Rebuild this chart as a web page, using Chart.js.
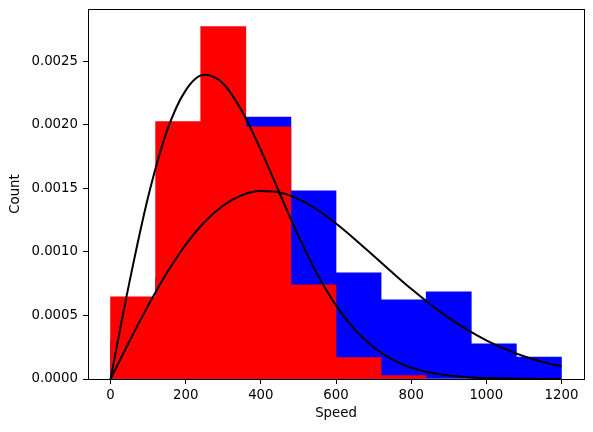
<!DOCTYPE html>
<html>
<head>
<meta charset="utf-8">
<script src="https://cdn.jsdelivr.net/npm/chart.js@4/dist/chart.umd.min.js"></script>
<style>
  body { margin: 0; background: #fff; }
</style>
</head>
<body>
<canvas id="myChart" width="593" height="432"></canvas>
<script>
// histogram bins (width 120)
const blueEdges = [0, 120, 240, 360, 480, 600, 720, 840, 960, 1080, 1200];
const blueDensity = [0.00030, 0.00080, 0.00110, 0.00206, 0.00148, 0.000835, 0.000622, 0.000685, 0.000276, 0.000173];
const redEdges = [0, 120, 240, 360, 480, 600, 720, 840];
const redDensity = [0.000646, 0.002024, 0.002772, 0.001984, 0.00074, 0.000168, 0.000026];

// fitted curves
const curveX = [0, 50, 100, 150, 200, 250, 300, 350, 400, 450, 500, 550, 600,
                650, 700, 750, 800, 850, 900, 950, 1000, 1050, 1100, 1150, 1200];
const redCurve = [0, 0.000758, 0.001432, 0.00195, 0.00227, 0.002392, 0.002322, 0.002105, 0.0018,
                  0.001461, 0.001126, 0.000826, 0.000579, 0.000388, 0.000249, 0.000153, 0.0000897,
                  0.0000506, 0.0000273, 0.0000142, 0.000007, 0.0000034, 0.0000015, 0.0000006, 0.0000003];
const blueCurve = [0, 0.000295, 0.000577, 0.000835, 0.001056, 0.001235, 0.001365, 0.001446, 0.001478,
                   0.001466, 0.001414, 0.001331, 0.001223, 0.0011, 0.000969, 0.000837, 0.000709,
                   0.00059, 0.000481, 0.000386, 0.000304, 0.000235, 0.000179, 0.000134, 0.0000985];

const xTicks = [0, 200, 400, 600, 800, 1000, 1200];
const yTicks = [0, 0.0005, 0.001, 0.0015, 0.002, 0.0025];

function toBars(edges, values) {
    return values.map((v, i) => ({ x: (edges[i] + edges[i + 1]) / 2, y: v }));
}

function toPoints(xs, ys) {
    return xs.map((x, i) => ({ x: x, y: ys[i] }));
}

// box around the plot area, like matplotlib spines
const frame = {
    id: 'frame',
    afterDatasetsDraw(chart) {
        const a = chart.chartArea;
        const ctx = chart.ctx;
        ctx.save();
        ctx.strokeStyle = '#000';
        ctx.lineWidth = 1;
        ctx.strokeRect(Math.round(a.left) + 0.5, Math.round(a.top) + 0.5,
                       Math.round(a.right - a.left), Math.round(a.bottom - a.top));
        ctx.restore();
    }
};

Chart.defaults.font.family = '"DejaVu Sans", sans-serif';
Chart.defaults.font.size = 13.3;
Chart.defaults.color = '#000';

const tickGrid = {
    display: true,
    drawOnChartArea: false,
    drawTicks: true,
    tickLength: 5,
    tickColor: '#000',
    tickWidth: 1,
    offset: false
};

function noPadding(axis) {
    axis.paddingTop = 0;
    axis.paddingBottom = 0;
    axis.paddingLeft = 0;
    axis.paddingRight = 0;
}

new Chart(document.getElementById('myChart').getContext('2d'), {
    type: 'bar',
    data: {
        datasets: [
            {
                type: 'line',
                data: toPoints(curveX, redCurve),
                borderColor: '#000',
                borderWidth: 2,
                pointRadius: 0,
                cubicInterpolationMode: 'monotone',
                fill: false,
                order: 0
            },
            {
                type: 'line',
                data: toPoints(curveX, blueCurve),
                borderColor: '#000',
                borderWidth: 2,
                pointRadius: 0,
                cubicInterpolationMode: 'monotone',
                fill: false,
                order: 0
            },
            {
                data: toBars(redEdges, redDensity),
                backgroundColor: '#ff0000',
                borderWidth: 0,
                grouped: false,
                barPercentage: 1,
                categoryPercentage: 1,
                order: 1
            },
            {
                data: toBars(blueEdges, blueDensity),
                backgroundColor: '#0000ff',
                borderWidth: 0,
                grouped: false,
                barPercentage: 1,
                categoryPercentage: 1,
                order: 2
            }
        ]
    },
    options: {
        responsive: false,
        animation: false,
        devicePixelRatio: 1,
        layout: { padding: { left: 0, right: 9, top: 9, bottom: 0 } },
        plugins: {
            legend: { display: false },
            tooltip: { enabled: false }
        },
        scales: {
            x: {
                type: 'linear',
                min: -60,
                max: 1260,
                offset: false,
                grid: tickGrid,
                border: { display: true, color: '#000', width: 1 },
                ticks: { padding: 4, maxRotation: 0, callback: v => String(v) },
                afterBuildTicks: axis => { axis.ticks = xTicks.map(v => ({ value: v })); },
                afterFit: axis => { axis.height = 53; noPadding(axis); },
                title: { display: true, text: 'Speed', padding: { top: 0, bottom: 10 } }
            },
            y: {
                type: 'linear',
                min: 0,
                max: 0.00291,
                grid: tickGrid,
                border: { display: true, color: '#000', width: 1 },
                ticks: { padding: 5, callback: v => v.toFixed(4) },
                afterBuildTicks: axis => { axis.ticks = yTicks.map(v => ({ value: v })); },
                afterFit: axis => { axis.width = 88; noPadding(axis); },
                title: { display: true, text: 'Count', padding: { top: 8, bottom: 0 } }
            }
        }
    },
    plugins: [frame]
});
</script>
</body>
</html>
